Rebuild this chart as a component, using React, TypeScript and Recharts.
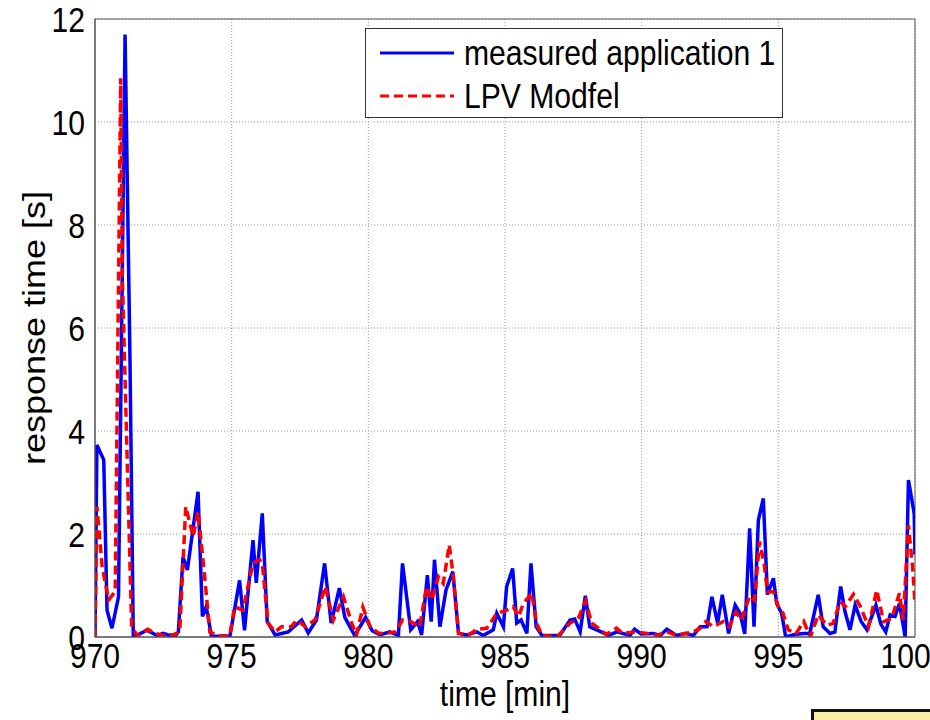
import React from 'react';
import { LineChart, Line, XAxis, YAxis, CartesianGrid, Legend, ReferenceArea } from 'recharts';

const measuredTime = [
  970.0, 970.07, 970.32, 970.44, 970.62, 970.86, 971.1, 971.28, 971.4, 971.6, 971.9, 972.27, 972.5, 972.9,
  973.05, 973.22, 973.38, 973.77, 973.93, 974.07, 974.26, 974.93, 975.29, 975.47, 975.78, 975.9, 976.12,
  976.3, 976.59, 977.07, 977.56, 977.8, 978.1, 978.4, 978.64, 978.94, 979.14, 979.5, 979.9, 980.14, 980.43,
  980.78, 981.1, 981.25, 981.55, 981.8, 981.95, 982.16, 982.3, 982.42, 982.62, 982.84, 983.09, 983.3, 983.6,
  983.97, 984.2, 984.57, 984.7, 984.94, 985.06, 985.28, 985.43, 985.59, 985.8, 985.95, 986.14, 986.35, 987.0,
  987.38, 987.55, 987.75, 987.94, 988.1, 988.6, 988.78, 989.1, 989.57, 989.74, 989.98, 990.43, 990.68, 990.92,
  991.28, 991.6, 991.89, 992.14, 992.39, 992.57, 992.78, 992.95, 993.18, 993.42, 993.6, 993.77, 993.95, 994.11,
  994.27, 994.45, 994.6, 994.82, 994.94, 995.12, 995.27, 995.6, 995.93, 996.15, 996.46, 996.64, 996.89, 997.07,
  997.28, 997.44, 997.62, 997.81, 998.03, 998.24, 998.57, 998.75, 998.93, 999.09, 999.27, 999.43, 999.64,
  999.76, 999.97, 1000.0,
];
const measuredValue = [
  0.0, 3.73, 3.44, 0.52, 0.17, 0.78, 11.7, 5.4, 0.03, 0.05, 0.13, 0.03, 0.07, 0.0,
  0.1, 1.55, 1.3, 2.82, 0.4, 0.59, 0.02, 0.0, 1.1, 0.13, 1.88, 1.05, 2.4,
  0.3, 0.04, 0.1, 0.33, 0.08, 0.33, 1.43, 0.27, 0.95, 0.38, 0.03, 0.38, 0.12, 0.04,
  0.1, 0.03, 1.43, 0.14, 0.3, 0.04, 1.2, 0.3, 1.5, 0.2, 0.91, 1.27, 0.07, 0.04,
  0.1, 0.03, 0.14, 0.46, 0.2, 0.98, 1.33, 0.27, 0.33, 0.07, 1.43, 0.2, 0.03, 0.03,
  0.33, 0.35, 0.1, 0.8, 0.2, 0.08, 0.03, 0.1, 0.03, 0.15, 0.06, 0.07, 0.03, 0.15,
  0.03, 0.07, 0.03, 0.2, 0.2, 0.78, 0.27, 0.82, 0.07, 0.62, 0.46, 0.06, 2.11, 0.2,
  2.27, 2.69, 0.82, 1.14, 0.65, 0.46, 0.0, 0.05, 0.07, 0.07, 0.82, 0.2, 0.07, 0.1,
  0.98, 0.49, 0.14, 0.62, 0.3, 0.14, 0.62, 0.25, 0.1, 0.43, 0.4, 0.65, 0.0,
  3.05, 2.4, 1.6,
];

const modelTime = [
  970.0, 970.07, 970.18, 970.26, 970.5, 970.74, 970.94, 971.0, 971.34, 971.55, 971.93, 972.2, 972.5, 972.9,
  973.1, 973.32, 973.59, 973.77, 974.0, 974.2, 974.5, 974.93, 975.11, 975.41, 975.78, 976.02, 976.12, 976.33,
  976.6, 976.82, 977.18, 977.38, 977.7, 978.05, 978.42, 978.72, 979.09, 979.39, 979.57, 979.8, 980.08, 980.4,
  980.75, 981.0, 981.25, 981.55, 981.88, 982.13, 982.32, 982.56, 982.74, 982.96, 983.11, 983.3, 983.65, 983.97,
  984.33, 984.7, 985.06, 985.3, 985.5, 985.67, 985.98, 986.15, 986.35, 986.9, 987.38, 987.68, 987.95, 988.17,
  988.48, 988.7, 989.08, 989.3, 989.8, 990.2, 990.55, 990.92, 991.3, 991.9, 992.14, 992.35, 992.62, 992.99,
  993.2, 993.45, 993.65, 993.95, 994.13, 994.31, 994.48, 994.6, 994.82, 995.0, 995.17, 995.36, 995.65, 995.93,
  996.17, 996.46, 996.77, 997.0, 997.26, 997.45, 997.75, 998.0, 998.3, 998.6, 998.85, 999.15, 999.43, 999.57,
  999.76, 999.92, 1000.0,
];
const modelValue = [
  0.0, 2.53, 1.88, 1.37, 0.72, 0.88, 10.85, 7.0, 0.2, 0.02, 0.15, 0.07, 0.03, 0.05,
  0.1, 2.53, 1.95, 2.43, 1.24, 0.1, 0.02, 0.03, 0.59, 0.52, 1.43, 1.5, 1.43, 0.27,
  0.1, 0.2, 0.2, 0.33, 0.2, 0.33, 0.98, 0.33, 0.78, 0.27, 0.04, 0.58, 0.18, 0.07,
  0.08, 0.1, 0.33, 0.3, 0.2, 0.98, 0.72, 1.17, 1.04, 1.79, 1.17, 0.07, 0.03, 0.15,
  0.17, 0.46, 0.52, 0.59, 0.4, 0.65, 0.85, 0.27, 0.03, 0.0, 0.27, 0.36, 0.7, 0.27,
  0.15, 0.05, 0.17, 0.07, 0.1, 0.07, 0.03, 0.1, 0.03, 0.1, 0.17, 0.3, 0.2, 0.3,
  0.2, 0.48, 0.33, 0.8, 0.72, 1.85, 1.43, 0.88, 0.88, 0.59, 0.46, 0.14, 0.07, 0.3,
  0.0, 0.43, 0.23, 0.26, 0.69, 0.59, 0.83, 0.59, 0.2, 0.91, 0.3, 0.36, 0.85, 0.33,
  2.17, 1.31, 0.65,
];

const xTicks = [970, 975, 980, 985, 990, 995, 1000];
const yTicks = [0, 2, 4, 6, 8, 10, 12];
const seriesNames = ['measured application 1', 'LPV Modfel'];
const seriesColors = ['#0000FF', '#FF0000'];
const xLabel = 'time [min]';
const yLabel = 'response time [s]';

const measuredData = measuredTime.map((t, i) => ({ t, v: measuredValue[i] }));
const modelData = modelTime.map((t, i) => ({ t, v: modelValue[i] }));

const FONT = "'Liberation Sans', Arial, sans-serif";
const SQUEEZE = 0.86;
const FS = 35;

const renderLegend = (props: any) => {
  const payload = [...(props.payload || [])].sort(
    (a: any, b: any) => seriesNames.indexOf(a.value) - seriesNames.indexOf(b.value)
  );
  return (
    <div
      style={{
        border: '1px solid #333',
        background: '#fff',
        padding: '2px 0 2px 14px',
        fontFamily: FONT,
        fontSize: FS,
        color: '#000',
        whiteSpace: 'nowrap',
        boxSizing: 'border-box',
        height: 90,
      }}
    >
      {payload.map((entry: any, i: number) => {
        const dash = entry.payload && entry.payload.strokeDasharray;
        return (
          <div key={i} style={{ display: 'flex', alignItems: 'center', height: 43 }}>
            <svg width={74} height={12} style={{ marginRight: 10, flex: 'none' }}>
              <line
                x1={0}
                y1={6}
                x2={74}
                y2={6}
                stroke={entry.color}
                strokeWidth={3}
                strokeDasharray={dash}
              />
            </svg>
            <span
              style={{
                display: 'inline-block',
                transform: `scaleX(${SQUEEZE})`,
                transformOrigin: 'left center',
                lineHeight: 1,
              }}
            >
              {entry.value}
            </span>
          </div>
        );
      })}
    </div>
  );
};

const XTick = (props: any) => {
  const { x, y, payload } = props;
  return (
    <text
      transform={`translate(${x}, ${y + 25}) scale(${SQUEEZE}, 1)`}
      textAnchor="middle"
      fontFamily={FONT}
      fontSize={FS}
      fill="#000"
    >
      {payload.value}
    </text>
  );
};

const YTick = (props: any) => {
  const { x, y, payload } = props;
  return (
    <text
      transform={`translate(${x}, ${y + 12.5}) scale(${SQUEEZE}, 1)`}
      textAnchor="end"
      fontFamily={FONT}
      fontSize={FS}
      fill="#000"
    >
      {payload.value}
    </text>
  );
};

const YLabelContent = (props: any) => {
  const vb = props.viewBox || { x: 0, y: 0, width: 0, height: 0 };
  const cx = 34;
  const cy = vb.y + vb.height / 2;
  return (
    <text
      transform={`translate(${cx}, ${cy}) rotate(-90) scale(1, ${SQUEEZE})`}
      textAnchor="middle"
      dominantBaseline="central"
      fontFamily={FONT}
      fontSize={36}
      fill="#000"
    >
      {yLabel}
    </text>
  );
};

const XLabelContent = (props: any) => {
  const vb = props.viewBox || { x: 0, y: 0, width: 0, height: 0 };
  const cx = vb.x + vb.width / 2;
  return (
    <text
      transform={`translate(${cx}, 694) scale(${SQUEEZE}, 1)`}
      textAnchor="middle"
      dominantBaseline="central"
      fontFamily={FONT}
      fontSize={FS}
      fill="#000"
    >
      {xLabel}
    </text>
  );
};

export default function App() {
  return (
    <div
      style={{
        position: 'absolute',
        left: 0,
        top: 0,
        width: 930,
        height: 720,
        overflow: 'hidden',
        background: '#fff',
      }}
    >
      <LineChart width={930} height={720} margin={{ top: 19, right: 15, bottom: 53, left: 35 }}>
        <CartesianGrid stroke="#9a9a9a" strokeDasharray="1 2" />
        <XAxis
          type="number"
          dataKey="t"
          domain={[970, 1000]}
          ticks={xTicks}
          allowDataOverflow
          height={30}
          tickLine={false}
          tickSize={0}
          tickMargin={6}
          axisLine={{ stroke: '#555' }}
          tick={<XTick />}
          label={{ content: XLabelContent }}
        />
        <YAxis
          type="number"
          domain={[0, 12]}
          ticks={yTicks}
          allowDataOverflow
          width={60}
          tickLine={false}
          tickSize={0}
          tickMargin={10}
          axisLine={{ stroke: '#555' }}
          tick={<YTick />}
          label={{ content: YLabelContent }}
        />
        <ReferenceArea x1={970} x2={1000} y1={0} y2={12} fill="none" stroke="#555" strokeWidth={1} />
        <Line
          data={measuredData}
          dataKey="v"
          name={seriesNames[0]}
          type="linear"
          stroke={seriesColors[0]}
          strokeWidth={3.5}
          dot={false}
          activeDot={false}
          isAnimationActive={false}
        />
        <Line
          data={modelData}
          dataKey="v"
          name={seriesNames[1]}
          type="linear"
          stroke={seriesColors[1]}
          strokeWidth={3.5}
          strokeDasharray="9 5"
          dot={false}
          activeDot={false}
          isAnimationActive={false}
        />
        <Legend
          layout="vertical"
          align="center"
          verticalAlign="middle"
          content={renderLegend}
          wrapperStyle={{ left: 365, top: 28, width: 418, bottom: 'auto', right: 'auto' }}
        />
      </LineChart>
      <div
        style={{
          position: 'absolute',
          left: 811,
          top: 709,
          width: 200,
          height: 60,
          background: '#F6EEA2',
          border: '3px solid #111',
        }}
      />
    </div>
  );
}
